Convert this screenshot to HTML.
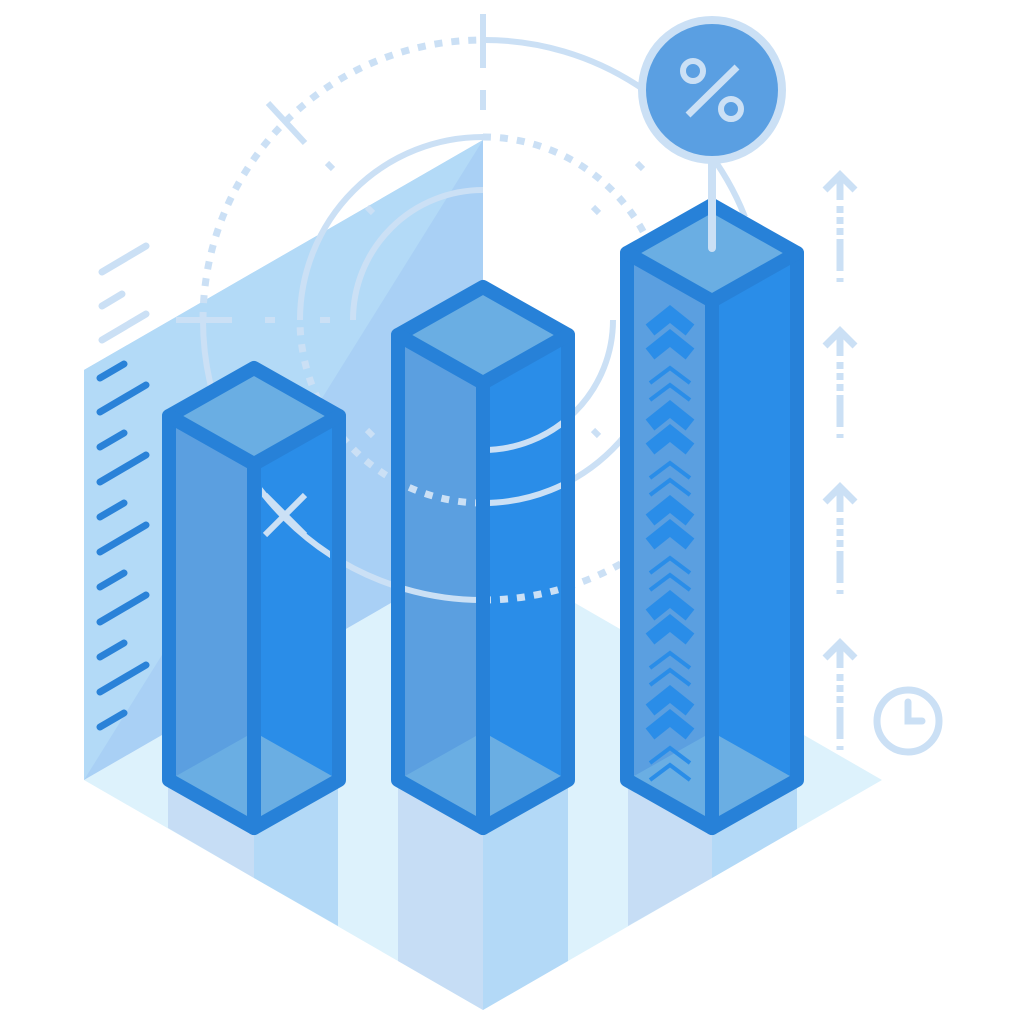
<!DOCTYPE html>
<html><head><meta charset="utf-8"><style>html,body{margin:0;padding:0;background:#fff}svg{display:block}</style></head>
<body>
<svg width="1024" height="1024" viewBox="0 0 1024 1024" xmlns="http://www.w3.org/2000/svg">
<defs>
<clipPath id="faces">
<polygon points="262,475 330,420 330,775 262,815"/>
<polygon points="405,345 476,385 476,815 405,775"/>
<polygon points="490,385 561,345 561,775 490,815"/>
</clipPath>
<g id="arcs" fill="none" stroke="#cbe0f5" stroke-width="6">
<path d="M483 40 A280 280 0 0 1 745 217"/>
<path d="M203 320 A280 280 0 0 1 483 40" stroke-dasharray="8 9" stroke-width="7"/>
<path d="M203 320 A280 280 0 0 0 483 600"/>
<path d="M483 600 A280 280 0 0 0 763 320" stroke-dasharray="8 9" stroke-width="7"/>
<path d="M300 320 A183 183 0 0 1 483 137"/>
<path d="M483 137 A183 183 0 0 1 666 320" stroke-dasharray="8 9" stroke-width="7"/>
<path d="M666 320 A183 183 0 0 1 483 503"/>
<path d="M483 503 A183 183 0 0 1 300 320" stroke-dasharray="8 9" stroke-width="7"/>
<path d="M353 320 A130 130 0 0 1 483 190"/>
<path d="M613 320 A130 130 0 0 1 483 450"/>
</g>
</defs>
<polygon points="84,780 483,550 882,780 483,1010" fill="#ddf2fc"/>
<polygon points="84,370 483,140 483,550 84,780" fill="#a9d0f5"/>
<polygon points="84,370 483,140 84,780" fill="#b3daf7"/>
<g>
<polygon points="168,780 254,828 254,878 168,828" fill="#c6ddf5"/>
<polygon points="254,828 338,780 338,926 254,878" fill="#b3d9f7"/>
<polygon points="398,780 483,828 483,1010 398,961" fill="#c6ddf5"/>
<polygon points="483,828 568,780 568,961 483,1010" fill="#b3d9f7"/>
<polygon points="628,780 712,828 712,878 628,926" fill="#c6ddf5"/>
<polygon points="712,828 797,780 797,829 712,878" fill="#b3d9f7"/>
</g>
<use href="#arcs"/>
<g stroke="#cbe0f5" stroke-width="6" fill="none">
<line x1="483" y1="14" x2="483" y2="68"/>
<line x1="268" y1="103" x2="305" y2="143"/>
<line x1="176" y1="320" x2="232" y2="320"/>
<line x1="265" y1="320" x2="275" y2="320"/>
<line x1="320" y1="320" x2="330" y2="320"/>
<line x1="483" y1="90" x2="483" y2="110"/>
<line x1="327" y1="163" x2="333" y2="169"/>
<line x1="637" y1="163" x2="643" y2="169"/>
<line x1="593" y1="207" x2="599" y2="213"/>
<line x1="367" y1="207" x2="373" y2="213"/>
<line x1="367" y1="430" x2="373" y2="436"/>
<line x1="593" y1="430" x2="599" y2="436"/>
</g>
<g stroke="#cbe0f5" stroke-width="7" stroke-linecap="round">
<line x1="102" y1="272" x2="146" y2="246"/>
<line x1="102" y1="306" x2="122" y2="294"/>
<line x1="102" y1="340" x2="146" y2="314"/>
</g>
<g stroke="#2a82d8" stroke-width="7" stroke-linecap="round">
<line x1="100" y1="378" x2="124" y2="364"/>
<line x1="100" y1="412" x2="146" y2="385"/>
<line x1="100" y1="447" x2="124" y2="433"/>
<line x1="100" y1="482" x2="146" y2="455"/>
<line x1="100" y1="517" x2="124" y2="503"/>
<line x1="100" y1="552" x2="146" y2="525"/>
<line x1="100" y1="587" x2="124" y2="573"/>
<line x1="100" y1="622" x2="146" y2="595"/>
<line x1="100" y1="657" x2="124" y2="643"/>
<line x1="100" y1="692" x2="146" y2="665"/>
<line x1="100" y1="727" x2="124" y2="713"/>
</g>
<g>
<polygon points="169,416 254,464 254,828 169,780" fill="#5b9fe0"/>
<polygon points="254,464 339,416 339,780 254,828" fill="#2a8de8"/>
<polygon points="169,416 254,368 339,416 254,464" fill="#6aaee3"/>
<polygon points="169,780 254,732 254,828" fill="#6aaee3"/>
<polygon points="339,780 254,732 254,828" fill="#6aaee3"/>
<polygon points="398,335 483,383 483,828 398,780" fill="#5b9fe0"/>
<polygon points="483,383 568,335 568,780 483,828" fill="#2a8de8"/>
<polygon points="398,335 483,287 568,335 483,383" fill="#6aaee3"/>
<polygon points="398,780 483,732 483,828" fill="#6aaee3"/>
<polygon points="568,780 483,732 483,828" fill="#6aaee3"/>
<polygon points="627,253 712,301 712,828 627,780" fill="#5b9fe0"/>
<polygon points="712,301 797,253 797,780 712,828" fill="#2a8de8"/>
<polygon points="627,253 712,205 797,253 712,301" fill="#6aaee3"/>
<polygon points="627,780 712,732 712,828" fill="#6aaee3"/>
<polygon points="797,780 712,732 712,828" fill="#6aaee3"/>
</g>
<g clip-path="url(#faces)"><use href="#arcs"/></g>
<g stroke="#cbe0f5" stroke-width="6">
<line x1="265" y1="495" x2="305" y2="535"/>
<line x1="265" y1="535" x2="305" y2="495"/>
</g>
<g fill="none" stroke="#2a8de8" stroke-linejoin="miter">
<g id="chg">
<polyline points="650,330 670,314 690,330" stroke-width="14"/>
<polyline points="650,354 670,338 690,354" stroke-width="14"/>
<polyline points="650,383 670,368 690,383" stroke-width="4"/>
<polyline points="650,400 670,385 690,400" stroke-width="4"/>
</g>
<use href="#chg" y="95"/>
<use href="#chg" y="190"/>
<use href="#chg" y="285"/>
<use href="#chg" y="380"/>
</g>
<g fill="none" stroke="#2781d8" stroke-width="14" stroke-linejoin="round" stroke-linecap="round">
<polygon points="169,416 254,368 339,416 339,780 254,828 169,780"/>
<polyline points="169,416 254,464 339,416"/><line x1="254" y1="464" x2="254" y2="828"/>
<polygon points="398,335 483,287 568,335 568,780 483,828 398,780"/>
<polyline points="398,335 483,383 568,335"/><line x1="483" y1="383" x2="483" y2="828"/>
<polygon points="627,253 712,205 797,253 797,780 712,828 627,780"/>
<polyline points="627,253 712,301 797,253"/><line x1="712" y1="301" x2="712" y2="828"/>
</g>
<line x1="712" y1="150" x2="712" y2="248" stroke="#cbe0f5" stroke-width="8" stroke-linecap="round"/>
<circle cx="712" cy="90" r="70" fill="#5a9fe2" stroke="#cbe0f5" stroke-width="8"/>
<g stroke="#cbe0f5" stroke-width="6" fill="none">
<circle cx="693" cy="71" r="10"/>
<circle cx="731" cy="109" r="10"/>
<line x1="688" y1="115" x2="737" y2="67" stroke-width="7"/>
</g>
<g stroke="#cbe0f5" stroke-width="7" fill="none">
<g id="arr">
<polyline points="825,190 840,175 855,190"/>
<line x1="840" y1="178" x2="840" y2="200"/>
<line x1="840" y1="206" x2="840" y2="288" stroke-dasharray="7 4 7 4 7 4 32"/>
</g>
<use href="#arr" y="156"/>
<use href="#arr" y="312"/>
<use href="#arr" y="468"/>
<circle cx="908" cy="721" r="31"/>
<polyline points="908,702 908,721 922,721" stroke-linecap="round"/>
</g>
</svg>
</body></html>
